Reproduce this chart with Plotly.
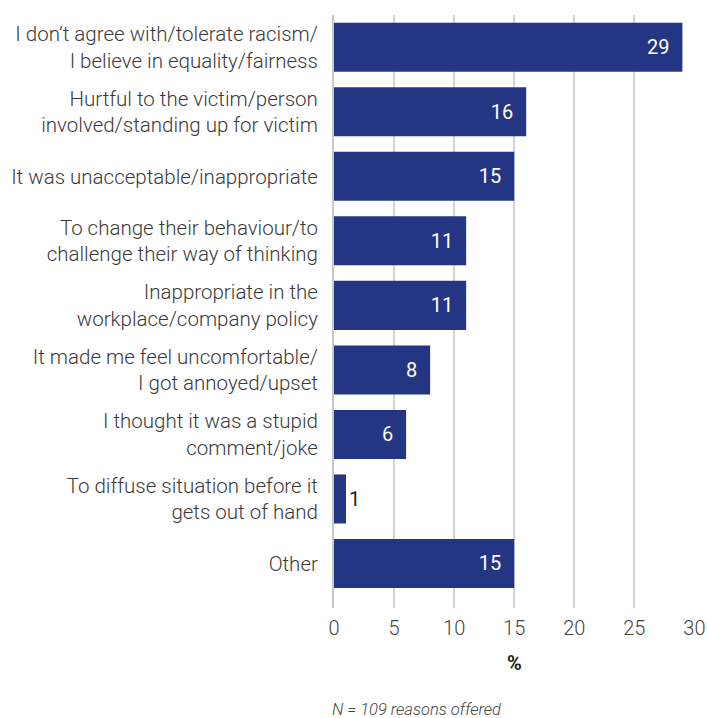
import plotly.graph_objects as go

categories = [
    "I don’t agree with/tolerate racism/<br>I believe in equality/fairness",
    "Hurtful to the victim/person<br>involved/standing up for victim",
    "It was unacceptable/inappropriate",
    "To change their behaviour/to<br>challenge their way of thinking",
    "Inappropriate in the<br>workplace/company policy",
    "It made me feel uncomfortable/<br>I got annoyed/upset",
    "I thought it was a stupid<br>comment/joke",
    "To diffuse situation before it<br>gets out of hand",
    "Other",
]
values = [29, 16, 15, 11, 11, 8, 6, 1, 15]
tick_vals = [0, 5, 10, 15, 20, 25, 30]

bar_color = "#243584"
font_family = "Roboto"

positions = ["outside" if v < 3 else "inside" for v in values]
text_colors = ["#222222" if v < 3 else "white" for v in values]
labels = [str(v) if v < 3 else str(v) + "\u00a0\u00a0" for v in values]

fig = go.Figure(
    go.Bar(
        x=values,
        y=list(range(len(categories))),
        orientation="h",
        marker=dict(color=bar_color, line=dict(width=0)),
        width=0.76,
        text=labels,
        textposition=positions,
        insidetextanchor="end",
        textfont=dict(family=font_family, size=20, color=text_colors, weight=400),
        cliponaxis=False,
        hoverinfo="skip",
    )
)

fig.update_layout(
    width=707,
    height=718,
    margin=dict(l=334, r=12, t=15, b=110, autoexpand=False),
    plot_bgcolor="white",
    paper_bgcolor="white",
    showlegend=False,
    font=dict(family=font_family, size=20, color="#3a3a3a"),
    uniformtext=dict(mode=False),
)

fig.update_xaxes(
    range=[0, 30.05],
    tickvals=tick_vals,
    showgrid=True,
    gridcolor="#d3d3d3",
    gridwidth=2,
    zeroline=False,
    showline=False,
    ticks="",
    automargin=False,
    ticklabelstandoff=6,
    tickfont=dict(family=font_family, size=20, color="#444444", weight=300),
    title=dict(text="<b>%</b>", font=dict(family=font_family, size=20, color="#222222"), standoff=16),
)

fig.update_yaxes(
    tickvals=list(range(len(categories))),
    ticktext=categories,
    range=[8.69, -0.5],
    showgrid=False,
    zeroline=False,
    showline=True,
    linecolor="#c8c8c8",
    linewidth=2,
    ticks="",
    automargin=False,
    ticklabelstandoff=10,
    tickfont=dict(family=font_family, size=20.5, color="#3a3a3a", weight=300),
)

fig.add_annotation(
    text="<i>N = 109 reasons offered</i>",
    xref="paper", yref="paper",
    x=-0.012, y=-0.151,
    xanchor="left", yanchor="top",
    showarrow=False,
    font=dict(family=font_family, size=16.5, color="#444444", weight=300),
)

fig.write_html(
    "out.html",
    config={"displayModeBar": False},
    post_script="document.body.style.margin='0';document.body.style.overflow='hidden';",
)
